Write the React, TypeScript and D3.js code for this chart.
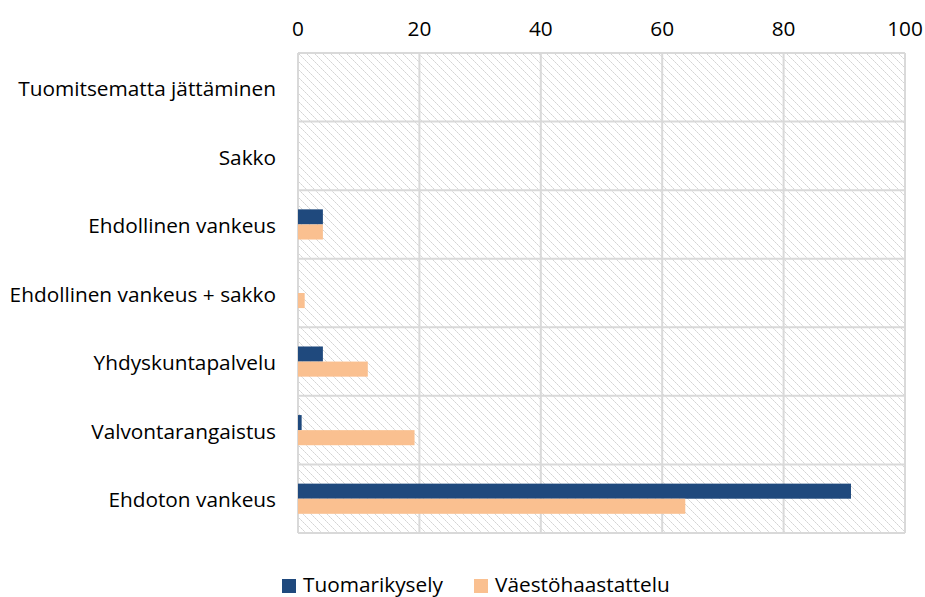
import { useEffect, useRef } from "react";
import * as d3 from "d3";

const categories = [
  "Tuomitsematta jättäminen",
  "Sakko",
  "Ehdollinen vankeus",
  "Ehdollinen vankeus + sakko",
  "Yhdyskuntapalvelu",
  "Valvontarangaistus",
  "Ehdoton vankeus",
];

const seriesNames = ["Tuomarikysely", "Väestöhaastattelu"];
const seriesColors = ["#1F497D", "#FAC090"];

const tuomarikysely = [0, 0, 4.1, 0, 4.1, 0.6, 91.1];
const vaestohaastattelu = [0, 0, 4.1, 1.1, 11.5, 19.2, 63.8];

const xTicks = [0, 20, 40, 60, 80, 100];

const FONT = "'Open Sans', sans-serif";
const FS = 20.8;

export default function App() {
  const svgRef = useRef<SVGSVGElement>(null);

  useEffect(() => {
    const svg = d3.select(svgRef.current);
    if (!svgRef.current) return;
    svg.selectAll("*").remove();

    const W = 925;
    const H = 597;
    const margin = { top: 53, left: 298 };
    const width = 905 - margin.left;
    const height = 533 - margin.top;

    svg.attr("width", W).attr("height", H);

    // hatched plot background (pixel staircase, like Excel's pattern fill)
    const defs = svg.append("defs");
    const pat = defs
      .append("pattern")
      .attr("id", "hatch")
      .attr("patternUnits", "userSpaceOnUse")
      .attr("width", 8)
      .attr("height", 8);
    pat.append("rect").attr("width", 8).attr("height", 8).attr("fill", "#fff");
    d3.range(8).forEach((i) => {
      pat
        .append("rect")
        .attr("x", i)
        .attr("y", i)
        .attr("width", 1.4)
        .attr("height", 1)
        .attr("fill", i % 2 ? "#d4d4d4" : "#e2e2e2")
        .attr("shape-rendering", "crispEdges");
    });

    const g = svg
      .append("g")
      .attr("transform", `translate(${margin.left},${margin.top})`);

    const x = d3.scaleLinear().domain([0, 100]).range([0, width]);
    const y = d3.scaleBand().domain(categories).range([0, height]);
    const inner = d3
      .scaleBand()
      .domain(seriesNames)
      .range([y.bandwidth() * 0.28, y.bandwidth() * 0.72]);

    g.append("rect")
      .attr("width", width)
      .attr("height", height)
      .attr("fill", "url(#hatch)");

    // vertical gridlines
    xTicks.forEach((t) => {
      g.append("line")
        .attr("x1", x(t))
        .attr("x2", x(t))
        .attr("y1", 0)
        .attr("y2", height)
        .attr("stroke", "#d9d9d9")
        .attr("stroke-width", 2);
    });
    // horizontal category separators
    [...categories.map((c) => y(c) as number), height].forEach((yy) => {
      g.append("line")
        .attr("x1", 0)
        .attr("x2", width)
        .attr("y1", yy)
        .attr("y2", yy)
        .attr("stroke", "#d9d9d9")
        .attr("stroke-width", 2);
    });

    // bars
    const series = [tuomarikysely, vaestohaastattelu];
    series.forEach((vals, si) => {
      g.append("g")
        .selectAll("rect")
        .data(vals)
        .join("rect")
        .attr("x", x(0))
        .attr("y", (_, i) => (y(categories[i]) as number) + (inner(seriesNames[si]) as number))
        .attr("width", (d) => x(d) - x(0))
        .attr("height", inner.bandwidth())
        .attr("fill", seriesColors[si]);
    });

    // x tick labels on top
    g.append("g")
      .selectAll("text")
      .data(xTicks)
      .join("text")
      .attr("x", (d) => x(d))
      .attr("y", -17)
      .attr("text-anchor", "middle")
      .attr("font-family", FONT)
      .attr("font-size", FS)
      .attr("fill", "#000")
      .text((d) => d);

    // category labels
    g.append("g")
      .selectAll("text")
      .data(categories)
      .join("text")
      .attr("x", -22)
      .attr("y", (d) => (y(d) as number) + y.bandwidth() / 2)
      .attr("dy", "0.42em")
      .attr("text-anchor", "end")
      .attr("font-family", FONT)
      .attr("font-size", FS)
      .attr("fill", "#000")
      .text((d) => d);

    // legend
    const legendX = [282, 474];
    const legend = svg.append("g");
    seriesNames.forEach((name, i) => {
      legend
        .append("rect")
        .attr("x", legendX[i])
        .attr("y", 579)
        .attr("width", 14)
        .attr("height", 14)
        .attr("fill", seriesColors[i]);
      legend
        .append("text")
        .attr("x", legendX[i] + 21)
        .attr("y", 592)
        .attr("font-family", FONT)
        .attr("font-size", FS)
        .attr("fill", "#000")
        .text(name);
    });
  }, []);

  return (
    <div style={{ position: "absolute", left: 0, top: 0 }}>
      <svg ref={svgRef} style={{ display: "block" }} />
    </div>
  );
}
